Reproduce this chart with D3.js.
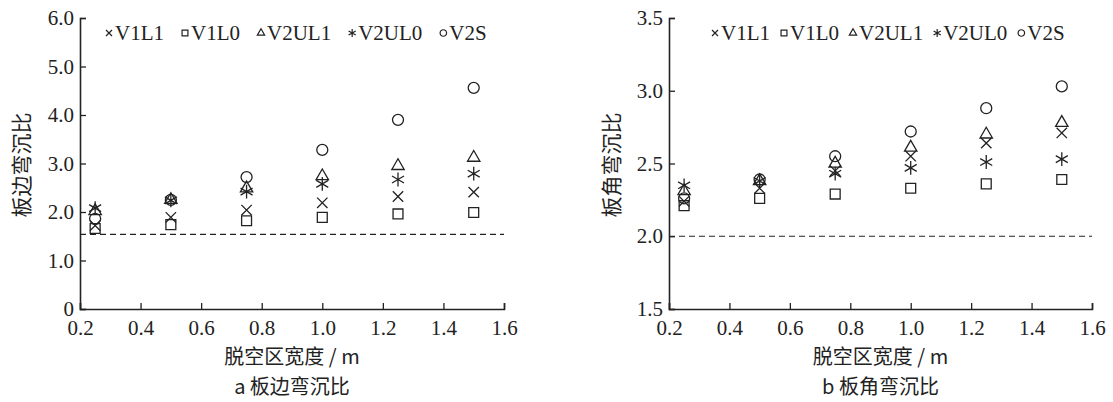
<!DOCTYPE html>
<html>
<head>
<meta charset="utf-8">
<script src="https://cdn.jsdelivr.net/npm/d3@7"></script>
<style>
  body { margin: 0; background: #fff; }
  svg text { fill: #222; }
  .latin { font-family: 'Liberation Serif', 'DejaVu Serif', serif; }
  .cjk { font-family: 'Noto Sans CJK SC', 'Noto Sans', sans-serif; }
</style>
</head>
<body>
<svg id="chart" width="1113" height="402"></svg>
<script>
// gap width (m)
const widths = [0.25, 0.5, 0.75, 1.0, 1.25, 1.5]
const seriesNames = ['V1L1', 'V1L0', 'V2UL1', 'V2UL0', 'V2S']
const xTicks = [0.2, 0.4, 0.6, 0.8, 1.0, 1.2, 1.4, 1.6]

// a: edge deflection ratio
const edgeV1L1 = [1.72, 1.89, 2.04, 2.19, 2.32, 2.41]
const edgeV1L0 = [1.66, 1.74, 1.82, 1.89, 1.96, 1.99]
const edgeV2UL1 = [2.02, 2.25, 2.49, 2.74, 2.95, 3.12]
const edgeV2UL0 = [2.08, 2.24, 2.42, 2.58, 2.67, 2.79]
const edgeV2S = [1.86, 2.25, 2.72, 3.28, 3.90, 4.56]
const edgeYTicks = [0, 1, 2, 3, 4, 5, 6]
const edgeLimit = 1.54

// b: corner deflection ratio
const cornerV1L1 = [2.24, 2.33, 2.45, 2.55, 2.64, 2.71]
const cornerV1L0 = [2.21, 2.26, 2.29, 2.33, 2.36, 2.39]
const cornerV2UL1 = [2.31, 2.38, 2.50, 2.61, 2.70, 2.78]
const cornerV2UL0 = [2.35, 2.38, 2.43, 2.47, 2.51, 2.53]
const cornerV2S = [2.26, 2.39, 2.55, 2.72, 2.88, 3.03]
const cornerYTicks = [1.5, 2.0, 2.5, 3.0, 3.5]
const cornerLimit = 2.0

const ink = '#222'

const svg = d3.select('#chart')
svg.append('rect').attr('width', 1113).attr('height', 402).attr('fill', '#fff')

// stroke symbols, same order as seriesNames
const symbols = [
  { type: d3.symbolTimes, size: 72 },
  { type: d3.symbolSquare2, size: 125 },
  { type: d3.symbolTriangle2, size: 110 },
  { type: d3.symbolAsterisk, size: 135 },
  { type: d3.symbolCircle, size: 95 }
]

function drawPanel (opt) {
  const x = d3.scaleLinear().domain([0.2, 1.6]).range([opt.left, opt.right])
  const y = d3.scaleLinear().domain(opt.yDomain).range([309, 18])
  const g = svg.append('g')

  // axes
  const xAxis = d3.axisBottom(x).tickValues(xTicks).tickSize(-6).tickPadding(11)
    .tickFormat(d3.format('.1f'))
  const yAxis = d3.axisLeft(y).tickValues(opt.yTicks).tickSize(-6).tickPadding(12)
    .tickFormat(d => d === 0 ? '0' : d3.format('.1f')(d))

  const gx = g.append('g').attr('transform', `translate(0,${y.range()[0]})`).call(xAxis)
  const gy = g.append('g').attr('transform', `translate(${opt.left},0)`).call(yAxis)
  for (const a of [gx, gy]) {
    a.attr('font-family', null).attr('font-size', null)
    a.select('.domain').attr('stroke', ink).attr('stroke-width', 1.6)
    a.selectAll('.tick line').attr('stroke', ink).attr('stroke-width', 1.3)
    a.selectAll('.tick text')
      .attr('class', 'latin').style('font-size', '21px').attr('fill', ink)
  }
  gx.selectAll('.tick text').attr('dy', '0.71em')
  gy.selectAll('.tick text').attr('dx', 6)

  // reference limit
  g.append('line')
    .attr('x1', opt.left).attr('x2', x(1.6))
    .attr('y1', y(opt.limit)).attr('y2', y(opt.limit))
    .attr('stroke', ink).attr('stroke-width', 1.2)
    .attr('stroke-dasharray', '6,4')

  // points
  opt.series.forEach((vals, si) => {
    const sym = d3.symbol().type(symbols[si].type).size(symbols[si].size)
    g.append('g').selectAll('path')
      .data(vals)
      .enter()
      .append('path')
      .attr('transform', (d, i) => `translate(${x(widths[i])},${y(d)})`)
      .attr('d', sym)
      .attr('fill', 'none')
      .attr('stroke', ink)
      .attr('stroke-width', 1.3)
  })

  // legend
  let lx = opt.legendX
  seriesNames.forEach((name, si) => {
    const sym = d3.symbol().type(symbols[si].type).size(symbols[si].size * 0.35)
    g.append('path')
      .attr('transform', `translate(${lx + 5},33)`)
      .attr('d', sym)
      .attr('fill', 'none')
      .attr('stroke', ink)
      .attr('stroke-width', 1.2)
    const t = g.append('text')
      .attr('class', 'latin')
      .attr('x', lx + 11).attr('y', 40)
      .style('font-size', '21px')
      .text(name)
    lx += 11 + t.node().getComputedTextLength() + opt.legendGap
  })

  // titles
  const cx = (opt.left + opt.right) / 2
  g.append('text')
    .attr('class', 'cjk')
    .attr('x', cx).attr('y', 364)
    .attr('text-anchor', 'middle')
    .style('font-size', '20px')
    .text('脱空区宽度 / m')
  g.append('text')
    .attr('class', 'cjk')
    .attr('x', cx).attr('y', 394)
    .attr('text-anchor', 'middle')
    .style('font-size', '20px')
    .text(opt.caption)
  g.append('text')
    .attr('class', 'cjk')
    .attr('transform', `translate(${opt.yTitleX},165) rotate(-90)`)
    .attr('text-anchor', 'middle')
    .style('font-size', '21px')
    .text(opt.yTitle)
}

drawPanel({
  left: 80, right: 504, yDomain: [0, 6], yTicks: edgeYTicks, limit: edgeLimit,
  series: [edgeV1L1, edgeV1L0, edgeV2UL1, edgeV2UL0, edgeV2S],
  legendX: 104, legendGap: 16,
  yTitle: '板边弯沉比', yTitleX: 29, caption: 'a  板边弯沉比'
})

drawPanel({
  left: 669, right: 1092, yDomain: [1.5, 3.5], yTicks: cornerYTicks, limit: cornerLimit,
  series: [cornerV1L1, cornerV1L0, cornerV2UL1, cornerV2UL0, cornerV2S],
  legendX: 710, legendGap: 9,
  yTitle: '板角弯沉比', yTitleX: 619, caption: 'b  板角弯沉比'
})
</script>
</body>
</html>
